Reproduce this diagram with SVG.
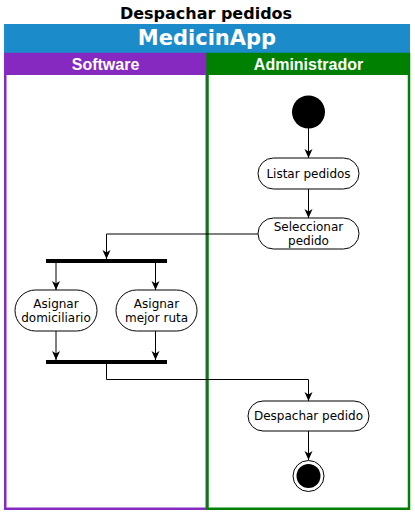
<svg xmlns="http://www.w3.org/2000/svg" width="415" height="514" viewBox="0 0 415 514">
<style>
.node{fill:#fff;stroke:#000;stroke-width:1}
.t{font-family:"DejaVu Sans",sans-serif;font-size:12px;fill:#000;text-anchor:middle}
.lh{font-family:"Liberation Sans",Arial,sans-serif;font-size:16px;font-weight:bold;fill:#fff;text-anchor:middle}
.edge{fill:none;stroke:#000;stroke-width:1}
</style>
<defs>
<marker id="arr" markerUnits="userSpaceOnUse" markerWidth="10" markerHeight="10" refX="9" refY="4" orient="auto">
<path d="M0,0 L9,4 L0,8 L2.5,4 z" fill="#000"/>
</marker>
</defs>
<rect width="415" height="514" fill="#fff"/>
<text x="206" y="19" font-family="DejaVu Sans, sans-serif" font-size="16" font-weight="bold" text-anchor="middle" fill="#000">Despachar pedidos</text>
<g id="pool">
<rect x="4" y="24" width="406" height="30" fill="#1B8BCA"/>
<text x="207" y="45" font-family="DejaVu Sans, sans-serif" font-size="21" font-weight="bold" text-anchor="middle" fill="#fff">MedicinApp</text>
</g>
<g id="lane-software">
<rect x="4" y="54" width="203" height="21" fill="#8629C1"/>
<rect x="5.25" y="54" width="201.5" height="454.75" fill="none" stroke="#8629C1" stroke-width="2.5"/>
<text class="lh" x="105.5" y="70">Software</text>
</g>
<g id="lane-administrador">
<rect x="207" y="54" width="203" height="21" fill="#008000"/>
<rect x="207.5" y="54" width="201.5" height="454.75" fill="none" stroke="#008000" stroke-width="2.5"/>
<text class="lh" x="308.5" y="70">Administrador</text>
</g>
<g id="connectors">
<path class="edge" d="M308.5,128 L308.5,158" marker-end="url(#arr)"/>
<path class="edge" d="M308.5,189 L308.5,218" marker-end="url(#arr)"/>
<path class="edge" d="M258,234 L106.5,234 L106.5,259" marker-end="url(#arr)"/>
<path class="edge" d="M56,263 L56,290" marker-end="url(#arr)"/>
<path class="edge" d="M155.5,263 L155.5,290" marker-end="url(#arr)"/>
<path class="edge" d="M56,331 L56,360" marker-end="url(#arr)"/>
<path class="edge" d="M155.5,331 L155.5,360" marker-end="url(#arr)"/>
<path class="edge" d="M106.5,364 L106.5,379.5 L308.5,379.5 L308.5,401" marker-end="url(#arr)"/>
<path class="edge" d="M308.5,431 L308.5,460" marker-end="url(#arr)"/>
</g>
<g id="start">
<circle cx="308.5" cy="112" r="16.5" fill="#000"/>
</g>
<g id="listar-pedidos">
<rect class="node" x="258" y="158" width="101" height="31" rx="15.5"/>
<text class="t" x="308.5" y="178">Listar pedidos</text>
</g>
<g id="seleccionar-pedido">
<rect class="node" x="258" y="218" width="101" height="31" rx="15.5"/>
<text class="t" x="308.5" y="230.5">Seleccionar</text>
<text class="t" x="308.5" y="245">pedido</text>
</g>
<g id="fork">
<rect x="46" y="259" width="121" height="4" fill="#000"/>
</g>
<g id="asignar-domiciliario">
<rect class="node" x="15" y="290" width="82" height="41" rx="20.5"/>
<text class="t" x="56" y="308">Asignar</text>
<text class="t" x="56" y="322">domiciliario</text>
</g>
<g id="asignar-mejor-ruta">
<rect class="node" x="116" y="290" width="81" height="41" rx="20.5"/>
<text class="t" x="156.5" y="308">Asignar</text>
<text class="t" x="156.5" y="322">mejor ruta</text>
</g>
<g id="join">
<rect x="46" y="360" width="121" height="4" fill="#000"/>
</g>
<g id="despachar-pedido">
<rect class="node" x="248" y="401" width="121" height="30" rx="15"/>
<text class="t" x="308.5" y="420">Despachar pedido</text>
</g>
<g id="end">
<circle cx="308.5" cy="476" r="15.5" fill="#fff" stroke="#000" stroke-width="1"/>
<circle cx="308.5" cy="476" r="12" fill="#000"/>
</g>
</svg>
